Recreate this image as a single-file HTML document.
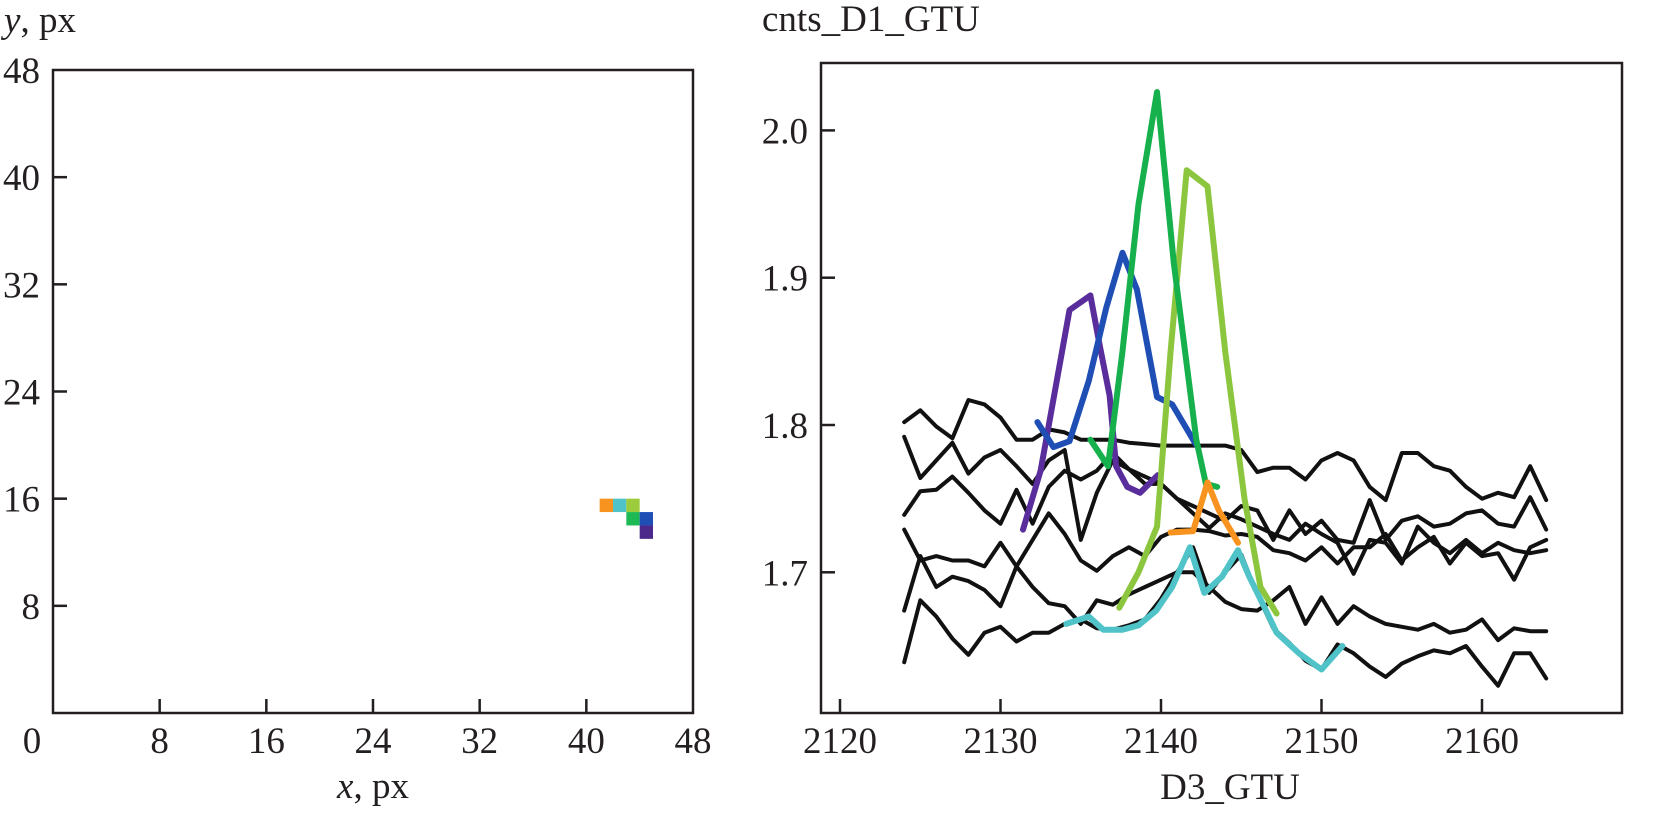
<!DOCTYPE html>
<html><head><meta charset="utf-8">
<style>
html,body{margin:0;padding:0;background:#fff;}
svg{display:block;font-family:"Liberation Serif",serif;}
</style></head>
<body>
<svg id="fig" width="1658" height="813" viewBox="0 0 1658 813" xmlns="http://www.w3.org/2000/svg">
  <g id="left"></g>
  <g id="right"></g>
</svg>
<script>
// ---------- Left panel data ----------
const mapTicks = [8, 16, 24, 32, 40];
const cellX = [41, 42, 43, 43, 44, 44];
const cellY = [15, 15, 15, 14, 14, 13];
const cellColor = ["#f7931e", "#4fc3c8", "#9ccc3c", "#1db954", "#1f4fb5", "#4b2a8c"];

// ---------- Right panel data ----------
const tAxis = [2124,2125,2126,2127,2128,2129,2130,2131,2132,2133,2134,2135,2136,2137,2138,2139,2140,2141,2142,2143,2144,2145,2146,2147,2148,2149,2150,2151,2152,2153,2154,2155,2156,2157,2158,2159,2160,2161,2162,2163,2164];
const black1 = [1.802,1.810,1.799,1.791,1.817,1.814,1.805,1.790,1.790,1.797,1.795,1.790,1.790,1.790,1.788,1.787,1.786,1.786,1.786,1.786,1.786,1.783,1.768,1.771,1.771,1.763,1.776,1.781,1.776,1.758,1.749,1.781,1.781,1.772,1.769,1.758,1.750,1.754,1.751,1.772,1.749];
const black2 = [1.792,1.764,1.776,1.788,1.767,1.778,1.783,1.772,1.760,1.776,1.783,1.722,1.754,1.776,1.770,1.765,1.760,1.750,1.745,1.740,1.735,1.745,1.742,1.722,1.742,1.726,1.735,1.722,1.720,1.749,1.722,1.735,1.738,1.731,1.733,1.740,1.742,1.733,1.731,1.751,1.729];
const black3 = [1.739,1.755,1.756,1.765,1.754,1.742,1.733,1.756,1.733,1.758,1.769,1.763,1.769,1.781,1.770,1.760,1.760,1.750,1.740,1.730,1.740,1.736,1.731,1.726,1.722,1.733,1.726,1.720,1.699,1.722,1.720,1.706,1.731,1.720,1.713,1.722,1.713,1.720,1.715,1.713,1.715];
const black4 = [1.729,1.708,1.711,1.708,1.708,1.704,1.720,1.704,1.722,1.740,1.726,1.708,1.701,1.711,1.717,1.711,1.724,1.729,1.729,1.728,1.725,1.726,1.724,1.715,1.713,1.708,1.717,1.706,1.717,1.717,1.726,1.708,1.717,1.724,1.706,1.720,1.711,1.713,1.695,1.717,1.722];
const black5 = [1.674,1.711,1.690,1.697,1.694,1.688,1.677,1.704,1.690,1.679,1.677,1.665,1.681,1.678,1.685,1.690,1.695,1.700,1.700,1.690,1.680,1.675,1.674,1.681,1.690,1.665,1.683,1.665,1.677,1.670,1.665,1.663,1.661,1.665,1.659,1.661,1.668,1.654,1.662,1.660,1.660];
const black6 = [1.639,1.681,1.670,1.655,1.644,1.659,1.663,1.653,1.659,1.659,1.665,1.668,1.662,1.661,1.664,1.668,1.682,1.700,1.717,1.686,1.700,1.712,1.685,1.662,1.652,1.640,1.634,1.651,1.645,1.636,1.629,1.638,1.643,1.647,1.645,1.650,1.636,1.623,1.645,1.645,1.628];

const purpleT = [2131.4,2132.5,2134.3,2135.6,2136.2,2136.8,2137.2,2137.9,2138.7,2139.8];
const purpleV = [1.729,1.769,1.878,1.888,1.853,1.820,1.772,1.758,1.754,1.766];
const blueT = [2132.3,2133.3,2134.3,2135.5,2136.6,2137.6,2138.5,2139.75,2140.7,2142.0,2142.3];
const blueV = [1.802,1.785,1.789,1.830,1.880,1.917,1.892,1.819,1.814,1.790,1.785];
const greenT = [2135.6,2136.7,2137.6,2138.6,2139.75,2140.8,2142.2,2142.8,2143.5];
const greenV = [1.790,1.772,1.850,1.950,2.026,1.910,1.790,1.760,1.758];
const limeT = [2137.4,2138.6,2139.75,2140.6,2141.6,2142.9,2144.0,2145.2,2146.2,2147.2];
const limeV = [1.676,1.700,1.731,1.850,1.973,1.962,1.850,1.750,1.690,1.672];
const orangeT = [2140.6,2142.0,2142.9,2143.6,2144.8];
const orangeV = [1.727,1.728,1.761,1.742,1.720];
const cyanT = [2134.1,2135.5,2136.4,2137.6,2138.6,2139.7,2140.7,2141.8,2142.7,2143.8,2144.8,2145.5,2146.5,2147.2,2148.6,2150.0,2151.3];
const cyanV = [1.665,1.670,1.661,1.661,1.664,1.674,1.690,1.717,1.686,1.697,1.715,1.697,1.675,1.659,1.645,1.634,1.650];

const xTicks = [2120, 2130, 2140, 2150, 2160];
const yTicks = [1.7, 1.8, 1.9, 2.0];
const yTickLabels = ["1.7", "1.8", "1.9", "2.0"];

const NS = "http://www.w3.org/2000/svg";
function mk(tag, attrs, parent) {
  const e = document.createElementNS(NS, tag);
  for (const k in attrs) e.setAttribute(k, attrs[k]);
  parent.appendChild(e);
  return e;
}

// ---------- Left panel ----------
const L = document.getElementById('left');
const lx = v => 53 + v * (640 / 48);
const ly = v => 713 - v * (643 / 48);
const lbox = mk('rect', {x: lx(0), y: ly(48), width: lx(48) - lx(0), height: ly(0) - ly(48), fill: 'none', stroke: '#231f20', 'stroke-width': 2.5}, L);


for (let i = 0; i < cellX.length; i++) {
  const c = mk('rect', {x: lx(cellX[i]), y: ly(cellY[i] + 1), width: lx(1) - lx(0), height: ly(0) - ly(1), fill: cellColor[i]}, L);
  
  
}
mapTicks.forEach(v => {
  const tx = mk('line', {x1: lx(v), x2: lx(v), y1: ly(0), y2: ly(0) - 14, stroke: '#231f20', 'stroke-width': 2.5}, L);
  
  
  const ty = mk('line', {x1: lx(0), x2: lx(0) + 14, y1: ly(v), y2: ly(v), stroke: '#231f20', 'stroke-width': 2.5}, L);
  
  
});
[...mapTicks, 48].forEach(v => {
  const t = mk('text', {x: lx(v), y: 753, 'font-size': 37, 'text-anchor': 'middle', fill: '#231f20'}, L);
  t.textContent = v;
  
  
  const t2 = mk('text', {x: 40, y: ly(v) + 13, 'font-size': 37, 'text-anchor': 'end', fill: '#231f20'}, L);
  t2.textContent = v;
  
  
});
const zero = mk('text', {x: 32, y: 753, 'font-size': 37, 'text-anchor': 'middle', fill: '#231f20'}, L);
zero.textContent = '0';


const xt = mk('text', {x: 373, y: 798, 'font-size': 37, 'text-anchor': 'middle', fill: '#231f20'}, L);
xt.innerHTML = '<tspan font-style="italic">x</tspan>, px';


const yt = mk('text', {x: 4, y: 32, 'font-size': 37, fill: '#231f20'}, L);
yt.innerHTML = '<tspan font-style="italic">y</tspan>, px';



// ---------- Right panel ----------
const R = document.getElementById('right');
const rx = t => 840 + (t - 2120) * 16.05;
const ry = v => 425 - (v - 1.8) * 1473;
const rbox = mk('rect', {x: 821, y: 63, width: 1622 - 821, height: 713 - 63, fill: 'none', stroke: '#231f20', 'stroke-width': 2.5}, R);


xTicks.forEach(v => {
  const tk = mk('line', {x1: rx(v), x2: rx(v), y1: 713, y2: 699, stroke: '#231f20', 'stroke-width': 2.5}, R);
  
  
  const t = mk('text', {x: rx(v), y: 753, 'font-size': 37, 'text-anchor': 'middle', fill: '#231f20'}, R);
  t.textContent = v;
  
  
});
yTicks.forEach((v, i) => {
  const tk = mk('line', {x1: 821, x2: 835, y1: ry(v), y2: ry(v), stroke: '#231f20', 'stroke-width': 2.5}, R);
  
  
  const t = mk('text', {x: 808, y: ry(v) + 13, 'font-size': 37, 'text-anchor': 'end', fill: '#231f20'}, R);
  t.textContent = yTickLabels[i];
  
  
});
const rt = mk('text', {x: 762, y: 31, 'font-size': 37, fill: '#231f20'}, R);
rt.textContent = 'cnts_D1_GTU';


const rxt = mk('text', {x: 1230, y: 799, 'font-size': 37, 'text-anchor': 'middle', fill: '#231f20'}, R);
rxt.textContent = 'D3_GTU';



function series(ts, vs, color, w, name) {
  const d = ts.map((t, i) => (i ? 'L' : 'M') + rx(t).toFixed(1) + ' ' + ry(vs[i]).toFixed(1)).join(' ');
  const p = mk('path', {d: d, fill: 'none', stroke: color, 'stroke-width': w, 'stroke-linejoin': 'round', 'stroke-linecap': 'round'}, R);
  
  
}
series(tAxis, black1, '#111', 4, 'pixel-curve-1');
series(tAxis, black2, '#111', 4, 'pixel-curve-2');
series(tAxis, black3, '#111', 4, 'pixel-curve-3');
series(tAxis, black4, '#111', 4, 'pixel-curve-4');
series(tAxis, black5, '#111', 4, 'pixel-curve-5');
series(tAxis, black6, '#111', 4, 'pixel-curve-6');
series(cyanT, cyanV, '#4fc3c8', 6, 'cyan-track');
series(purpleT, purpleV, '#5a2d9c', 6, 'purple-track');
series(blueT, blueV, '#1f4fb5', 6, 'blue-track');
series(limeT, limeV, '#8cc63f', 6, 'lime-track');
series(greenT, greenV, '#16b04c', 6, 'green-track');
series(orangeT, orangeV, '#f7931e', 6, 'orange-track');
</script>
</body></html>
